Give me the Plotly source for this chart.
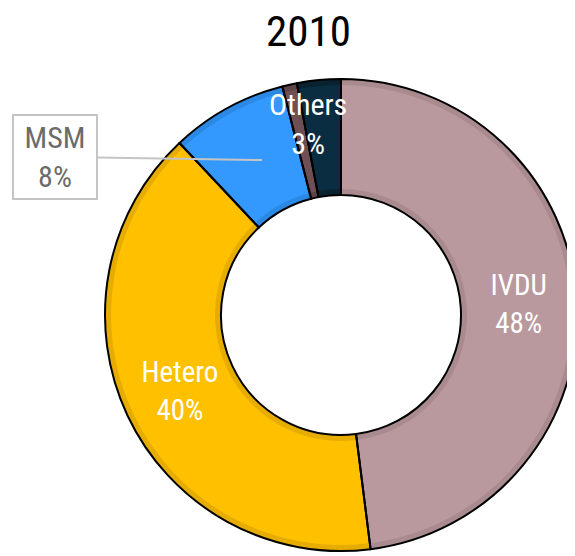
import plotly.graph_objects as go

labels = ["IVDU", "Hetero", "MSM", "Blood", "Others"]
values = [48, 40, 8, 1, 3]
colors = ["#b9999e", "#ffc000", "#3399ff", "#6e5054", "#0b2d42"]
band_colors = ["#a98b8f", "#e6ad00", "#2b88e3", "#5e4346", "#08222f"]
title_text = "2010"

FONT = "Roboto Condensed, Liberation Sans Narrow, DejaVu Sans Condensed, Arial Narrow, sans-serif"
W, H = 575, 556
OX, OY = 8, 8  # page body margin offset

cx, cy, R, r = 341 - OX, 315 - OY, 236, 120
b = 6

def dom(rad):
    x0 = max(cx - rad, 0) / W
    x1 = min(cx + rad, W) / W
    y0 = max(H - (cy + rad), 0) / H
    y1 = min(H - (cy - rad), H) / H
    return dict(x=[x0, x1], y=[y0, y1])

def px(x, y):
    return (x - OX) / W, 1 - (y - OY) / H

inside_text = [f"{l}<br>{v}%" if l in ("IVDU", "Hetero") else "" for l, v in zip(labels, values)]

fig = go.Figure()
fig.add_trace(go.Pie(labels=labels, values=values, sort=False, direction="clockwise", rotation=0,
                     hole=r / R, domain=dom(R), marker=dict(colors=band_colors, line=dict(width=0)),
                     textinfo="none", hoverinfo="skip", showlegend=False))
fig.add_trace(go.Pie(labels=labels, values=values, sort=False, direction="clockwise", rotation=0,
                     hole=(r + b) / (R - b), domain=dom(R - b), marker=dict(colors=colors, line=dict(width=0)),
                     textinfo="none", hoverinfo="skip", showlegend=False))
fig.add_trace(go.Pie(labels=labels, values=values, sort=False, direction="clockwise", rotation=0,
                     hole=r / R, domain=dom(R),
                     marker=dict(colors=["rgba(0,0,0,0)"] * 5, line=dict(color="#000000", width=2)),
                     text=inside_text, textinfo="text", textposition="inside",
                     insidetextorientation="horizontal",
                     textfont=dict(family=FONT, size=29, color="white"),
                     showlegend=False))

others_i = labels.index("Others")
msm_i = labels.index("MSM")

ox_, oy_ = px(308, 124)
fig.add_annotation(x=ox_, y=oy_, xref="paper", yref="paper", xanchor="center", yanchor="middle",
                   text=f"{labels[others_i]}<br>{values[others_i]}%", showarrow=False,
                   font=dict(family=FONT, size=30, color="white"))
tx, ty = px(262, 160)
fig.add_annotation(x=tx, y=ty, xref="paper", yref="paper",
                   text=f"{labels[msm_i]}<br>{values[msm_i]}%", showarrow=True,
                   ax=-207, ay=-3, arrowhead=0, arrowwidth=2, arrowcolor="#c4c4c4",
                   width=72, height=72,
                   font=dict(family=FONT, size=30, color="#6b6b6b"),
                   bgcolor="white", bordercolor="#c4c4c4", borderwidth=2, borderpad=5)

t_x, t_y = px(308, 31)
fig.add_annotation(x=t_x, y=t_y, xref="paper", yref="paper", xanchor="center", yanchor="middle",
                   text=title_text, showarrow=False,
                   font=dict(family=FONT, size=43, color="black"))

fig.update_layout(
    width=W, height=H,
    margin=dict(l=0, r=0, t=0, b=0),
    paper_bgcolor="white", plot_bgcolor="white",
    uniformtext=dict(minsize=29, mode="show"),
)

fig.write_html("out.html")
